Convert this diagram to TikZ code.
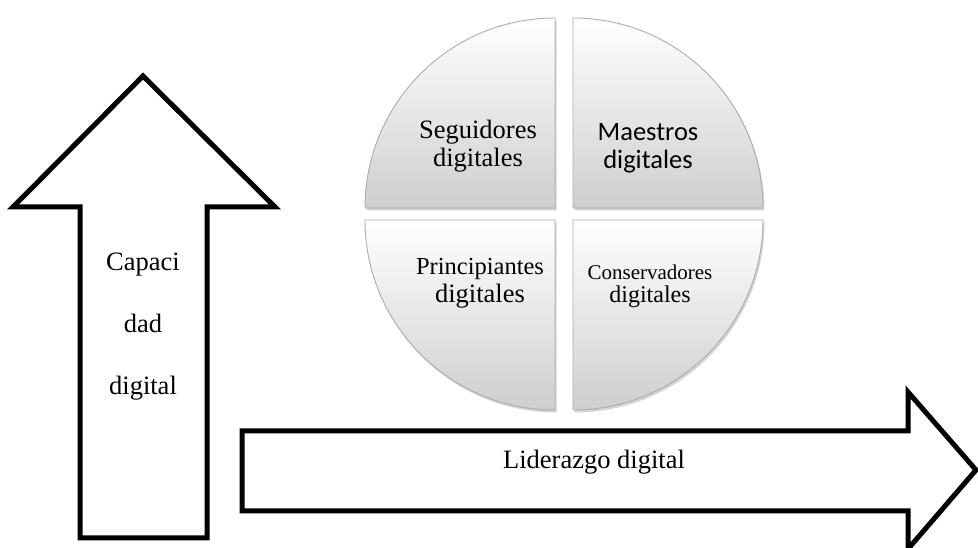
\documentclass[tikz,border=0pt]{standalone}
\usepackage{fontspec}
\setmainfont{Liberation Serif}
\newfontfamily\calibrifont{Carlito}
\usetikzlibrary{shadows}
\begin{document}
\begin{tikzpicture}[x=1pt,y=1pt,
  bigarrow/.style={draw=black, line width=5pt, line join=miter, fill=white},
  quad/.style={draw=gray!65, line width=0.9pt, top color=white, bottom color=gray!38,
    drop shadow={shadow xshift=1.5pt, shadow yshift=-2.5pt, opacity=0.35, fill=gray}},
  lbl/.style={align=center, inner sep=0pt, font=\fontsize{26.5}{28}\selectfont}
]
\useasboundingbox (0,0) rectangle (978,548);
% up arrow
\path[bigarrow] (143,472) -- (275,341) -- (207,341) -- (207,10) -- (80,10) -- (80,341) -- (13,341) -- cycle;
% right arrow
\path[bigarrow] (242,117) -- (908,117) -- (908,156) -- (976,78) -- (908,-1) -- (908,37) -- (242,37) -- cycle;
% exploded pie quadrants
\shade[quad] (555,340) -- (365,340) arc[start angle=180, end angle=90, radius=190] -- cycle;
\shade[quad] (573,340) -- (573,530) arc[start angle=90, end angle=0, radius=190] -- cycle;
\shade[quad] (555,328) -- (365,328) arc[start angle=180, end angle=270, radius=190] -- cycle;
\shade[quad] (573,328) -- (763,328) arc[start angle=0, end angle=-90, radius=190] -- cycle;
% labels
\node[lbl] (seg) at (478,402) {Seguidores\\digitales};
\node[lbl, font=\calibrifont\fontsize{26.5}{28}\selectfont] (mae) at (648,400) {Maestros\\digitales};
\node[lbl] (pri) at (480,265) {{\fontsize{24.5}{28}\selectfont Principiantes}\\digitales};
\node[lbl, font=\fontsize{21}{23}\selectfont] (con) at (650,262) {Conservadores\\{\fontsize{24}{23}\selectfont digitales}};
\node[lbl, font=\fontsize{26.5}{62}\selectfont] (cap) at (143,221) {Capaci\\dad\\digital};
\node[lbl] (lid) at (594,86) {Liderazgo digital};
\end{tikzpicture}
\end{document}
